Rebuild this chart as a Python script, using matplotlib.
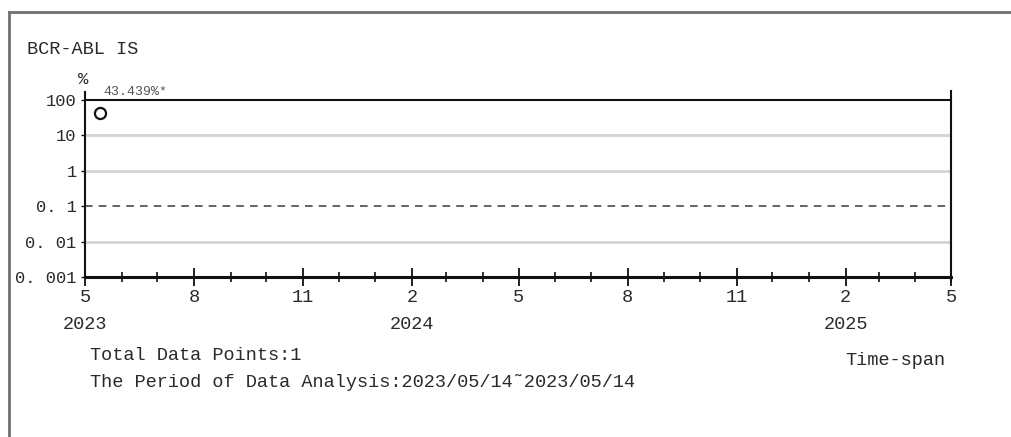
import matplotlib
matplotlib.use('Agg')
import matplotlib.pyplot as plt
import matplotlib.dates as mdates
from matplotlib.lines import Line2D
from matplotlib.ticker import FixedLocator, FixedFormatter, FuncFormatter, NullFormatter
import datetime as dt

# data
dates = ['2023/05/14']
values = [43.439]
x_start = '2023/05/01'
x_end = '2025/05/01'
y_ticks = [100, 10, 1, 0.1, 0.01, 0.001]
y_labels = ['100', '10', '1', '0. 1', '0. 01', '0. 001']
grid_solid = [10, 1, 0.01]
grid_dashed = [0.1]
title = 'BCR-ABL IS'
total_text = 'Total Data Points:1'
period_text = 'The Period of Data Analysis:2023/05/14\u02dc2023/05/14'

FONT = 'Liberation Mono'
TXT = '#2a2a2a'
plt.rcParams['font.family'] = [FONT, 'DejaVu Sans']

xd = [dt.datetime.strptime(d, '%Y/%m/%d') for d in dates]
x0 = dt.datetime.strptime(x_start, '%Y/%m/%d')
x1 = dt.datetime.strptime(x_end, '%Y/%m/%d')

fig = plt.figure(figsize=(10.12, 4.37), dpi=100)
ax = fig.add_axes([0.0840, 0.3661, 0.8557, 0.4050])

ax.set_yscale('log')
ax.set_ylim(0.001, 100)
ax.set_xlim(x0, x1)

for g in grid_solid:
    ax.axhline(g, color='#d4d4d4', lw=2, zorder=1)
for g in grid_dashed:
    ax.axhline(g, color='#3a3a3a', lw=1.1, ls=(0, (5, 4)), zorder=1)

ax.plot(xd, values, 'o', ms=8, mfc='white', mec='#111111', mew=1.6, zorder=3, clip_on=False)
for x, v in zip(xd, values):
    ax.annotate(f'{v}%*', xy=(x, v), xytext=(2, 15), textcoords='offset points',
                fontsize=9.5, color='#555555', ha='left', va='center', annotation_clip=False)

# spines
ax.spines['left'].set_visible(False)
ax.spines['right'].set_visible(False)
ax.spines['top'].set_color('#111111')
ax.spines['top'].set_linewidth(1.5)
ax.spines['bottom'].set_color('#111111')
ax.spines['bottom'].set_linewidth(2.2)
ax.add_line(Line2D([0, 0], [0, 1.045], transform=ax.transAxes, color='#111111', lw=1.5, clip_on=False))
ax.add_line(Line2D([1, 1], [-0.02, 1.05], transform=ax.transAxes, color='#111111', lw=1.5, clip_on=False))

# y axis
ax.yaxis.set_major_locator(FixedLocator(y_ticks))
ax.yaxis.set_major_formatter(FixedFormatter(y_labels))
ax.yaxis.set_minor_formatter(NullFormatter())
ax.tick_params(axis='y', which='minor', left=False)
ax.tick_params(axis='y', which='major', length=3, width=1, color='#111111', pad=3,
               labelsize=12.3, labelcolor=TXT)

# x axis
def month_label(x, pos):
    d = mdates.num2date(x)
    if d.month == 2 or pos == 0:
        return f'{d.month}\n{d.year}'
    return f'{d.month}'

ax.xaxis.set_major_locator(mdates.MonthLocator(bymonth=[2, 5, 8, 11]))
ax.xaxis.set_major_formatter(FuncFormatter(month_label))
ax.xaxis.set_minor_locator(mdates.MonthLocator())
ax.tick_params(axis='x', which='major', direction='inout', length=13, width=1.3, color='#111111',
               pad=2, labelsize=13.4, labelcolor=TXT)
ax.tick_params(axis='x', which='minor', direction='inout', length=7, width=1.2, color='#111111')
for lab in ax.get_xticklabels():
    lab.set_linespacing(1.8)
    lab.set_verticalalignment('top')

# texts
fig.text(0.0267, 0.8856, title, fontsize=13.4, color=TXT, ha='left', va='center')
fig.text(0.0820, 0.8170, '%', fontsize=12.5, color=TXT, ha='center', va='center')
fig.text(0.0889, 0.1876, total_text, fontsize=13.4, color=TXT, ha='left', va='center')
fig.text(0.0889, 0.1236, period_text, fontsize=13.4, color=TXT, ha='left', va='center')
fig.text(0.9338, 0.1762, 'Time-span', fontsize=13.4, color=TXT, ha='right', va='center')

# outer frame
fig.add_artist(Line2D([0.0089, 0.0089], [0, 0.9725], transform=fig.transFigure, color='#707070', lw=2))
fig.add_artist(Line2D([0.0089, 1], [0.9725, 0.9725], transform=fig.transFigure, color='#707070', lw=2))

fig.savefig('out.png', dpi=100, facecolor='white')
